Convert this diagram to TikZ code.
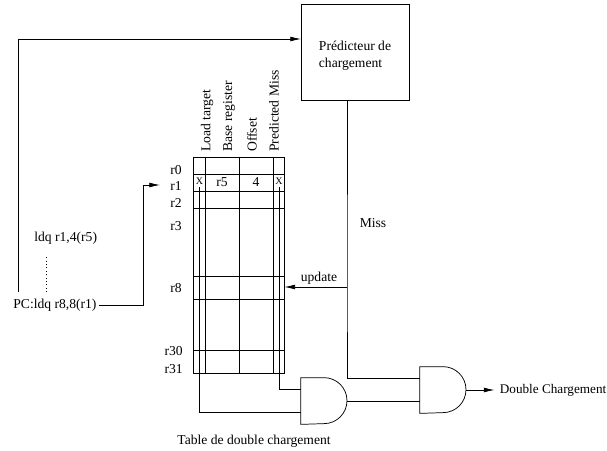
\documentclass[tikz,border=0pt]{standalone}
\usepackage{fontspec}
\setmainfont{Liberation Serif}
\usetikzlibrary{arrows.meta,positioning,calc}

\begin{document}
\begin{tikzpicture}[
    x=0.75pt,y=-0.75pt,
    line width=0.55pt,
    font=\fontsize{10.2}{12}\selectfont,
    lbl/.style={inner sep=0pt},
    reg/.style={inner sep=0pt,anchor=east},
    head/.style={inner sep=0pt,rotate=90,anchor=west},
    xcell/.style={inner xsep=0pt,inner ysep=2pt,font=\fontsize{7.5}{9}\selectfont},
    andgate/.style={minimum width=34.5pt,minimum height=34.5pt,inner sep=0pt},
    >={Latex[length=8pt,width=3.6pt]}
  ]
    \useasboundingbox (0,0) rectangle (607,450);

    \node[draw,minimum width=81pt,minimum height=72pt,inner sep=0pt] (pred) at (355,52) {};
    \node[lbl,align=left,font=\fontsize{10.2}{12.75}\selectfont] (predl) at (355,55.5) {Prédicteur de\\chargement};
    \node[draw,minimum width=67.9pt,minimum height=162pt,inner sep=0pt] (table) at (238.75,265) {};

    % rows and columns of the table
    \foreach \r in {174,191,208,276,299,350}
      \draw (table.west |- 0,\r) -- (table.east |- 0,\r);
    \foreach \c in {205,239,273}
      \draw (\c,0 |- table.north) -- (\c,0 |- table.south);

    \node[head] (htarget) at (207,152) {Load target};
    \node[head] (hbase) at (229,152) {Base register};
    \node[head] (hoffset) at (252,152) {Offset};
    \node[head] (hmiss) at (274,152) {Predicted Miss};

    \node[reg] (r0) at (182,170) {r0};
    \node[reg] (r1) at (182,186) {r1};
    \node[reg] (r2) at (182,203) {r2};
    \node[reg] (r3) at (182,226) {r3};
    \node[reg] (r8) at (182,288) {r8};
    \node[reg] (r30) at (183,351) {r30};
    \node[reg] (r31) at (183,369) {r31};

    \node[xcell] (xleft) at (199.5,181) {X};
    \node[lbl] (rfive) at (222,182) {r5};
    \node[lbl] (four) at (256,182) {4};
    \node[xcell] (xright) at (279,181) {X};

    \node[andgate] (gateA) at (324,401) {};
    \node[andgate] (gateB) at (443,390) {};
    \foreach \g in {gateA,gateB}
      \draw (\g.north west) -- (\g.north) arc[start angle=90,end angle=-90,radius=17.25pt] -- (\g.south west) -- cycle;

    \node[lbl,anchor=west] (ldq) at (34,238) {ldq r1,4(r5)};
    \node[lbl,anchor=west] (pc) at (13,305) {PC:ldq r8,8(r1)};
    \node[lbl] (missl) at (373,223) {Miss};
    \node[lbl] (updl) at (319,278) {update};
    \node[lbl,anchor=west,font=\fontsize{9.9}{12}\selectfont] (dbl) at (499.5,390) {Double Chargement};
    \node[lbl] (caption) at (254,441) {Table de double chargement};

    \coordinate (pcin) at (18,292);
    \coordinate (predin) at (301,39);
    \coordinate (dotend) at (46,292);
    \coordinate (missjoin) at (347,287);
    \coordinate (tablein) at (160,185);

    \draw[->] (pcin) |- (predin);
    \draw[dotted] (dotend) -- (dotend |- 0,255);
    \draw[->] (pc.east) ++(2,0) -| (143,185) -- (tablein);
    \draw (pred.south -| missjoin) -- (missjoin) |- (gateB.west |- 0,378);
    \draw[->] (missjoin) -- (table.east |- missjoin);
    \draw (xright.south) |- (gateA.west |- 0,389);
    \draw (xleft.south) |- (gateA.west |- 0,412);
    \draw (gateA.east) -- (gateB.west |- gateA.east);
    \draw[->,shorten >=3.75pt] (gateB.east) -- (dbl.west);
  \end{tikzpicture}
\end{document}
